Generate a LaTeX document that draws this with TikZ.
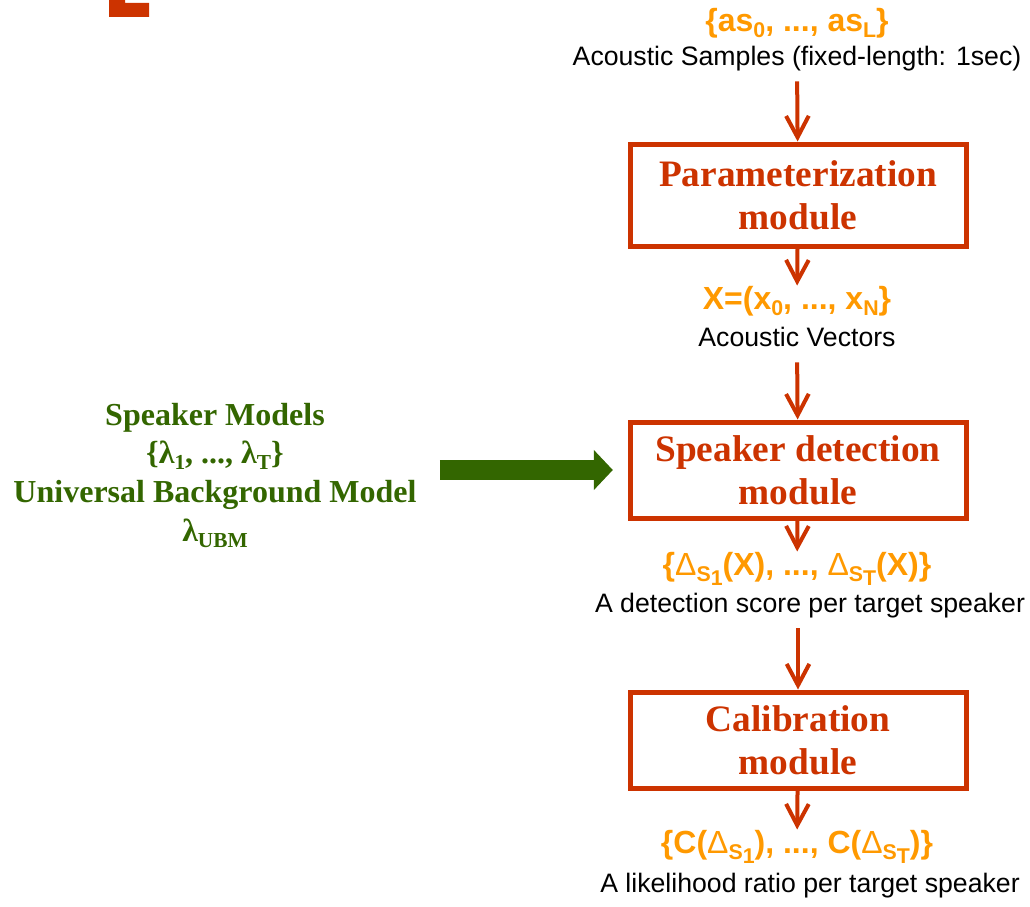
\documentclass[tikz,border=0pt]{standalone}
\usepackage{fontspec}
\setmainfont{Liberation Serif}
\setsansfont{Liberation Sans}
\usepackage{tikz}
\usetikzlibrary{arrows.meta,positioning}
\definecolor{modred}{RGB}{204,51,0}
\definecolor{symorange}{RGB}{255,153,0}
\definecolor{ubmgreen}{RGB}{51,102,0}
\newcommand{\subs}[2][4.5pt]{\raisebox{-#1}{\fontsize{16}{16}\selectfont #2}}
\newcommand{\dlt}{{\mdseries Δ}}

\begin{document}
\begin{tikzpicture}[x=0.75pt,y=-0.75pt,
    module/.style={draw=modred,line width=3.75pt,minimum width=252pt,align=center,text=modred,font=\bfseries\fontsize{28}{32}\selectfont},
    sym/.style={anchor=base,inner sep=0pt,text=symorange,font=\sffamily\bfseries\fontsize{24}{28}\selectfont},
    desc/.style={anchor=base,inner sep=0pt,text height=14pt,text depth=12pt,font=\sffamily\fontsize{20}{24}\selectfont}]
  \useasboundingbox (0,0) rectangle (1030,906);
  \fill[modred] (109,0) -- (125,0) -- (125,3) -- (149,3) -- (149,17) -- (109,17) -- cycle;

  \node[sym]  (as)       at (797,32)  {\{as\subs{0}, ..., as\subs{L}\}};
  \node[desc] (samples)  at (797,65)  {Acoustic Samples (fixed-length: 1sec)};
  \node[module,minimum height=76.5pt] (param)  at (798,195) {Parameterization\\module};
  \node[sym]  (xvec)     at (797,309) {X=(x\subs{0}, ..., x\subs{N}\}};
  \node[desc] (vectors)  at (797,346) {Acoustic Vectors};
  \node[module,minimum height=72pt]   (detect) at (798,470) {Speaker detection\\module};
  \node[sym]  (scores)   at (797,575) {\{\dlt\subs{S\subs[3.5pt]{1}}(X), ..., \dlt\subs{S\subs[3.5pt]{T}}(X)\}};
  \node[desc] (perscore) at (810,612) {A detection score per target speaker};
  \node[module,minimum height=72pt]   (calib)  at (798,740) {Calibration\\module};
  \node[sym]  (ratios)   at (797,853) {\{C(\dlt\subs{S\subs[3.5pt]{1}}), ..., C(\dlt\subs{S\subs[3.5pt]{T}})\}};
  \node[desc] (perratio) at (810,892) {A likelihood ratio per target speaker};

  \node[align=center,text=ubmgreen,font=\bfseries\fontsize{24}{29}\selectfont] (models) at (215,475)
    {Speaker Models\\\{λ\subs{1}, ..., λ\subs{T}\}\\Universal Background Model\\λ\subs{UBM}};

  \tikzset{flow/.style={draw=modred,line width=3pt,-{Straight Barb[length=16pt,width=17pt]}}}
  \tikzset{feed/.style={draw=ubmgreen,line width=15pt,shorten <=14pt,shorten >=11pt,-{Triangle[length=14.25pt,width=29.25pt]}}}
  \draw[flow] (samples) -- (param);
  \draw[flow] (param) -- (xvec);
  \draw[flow] (vectors) -- (detect);
  \draw[flow] (detect) -- (scores);
  \draw[flow] (perscore.south -| calib.north) -- (calib);
  \draw[flow] (calib) -- (ratios);
  \draw[feed] (models.east |- detect) -- (detect);
\end{tikzpicture}
\end{document}
